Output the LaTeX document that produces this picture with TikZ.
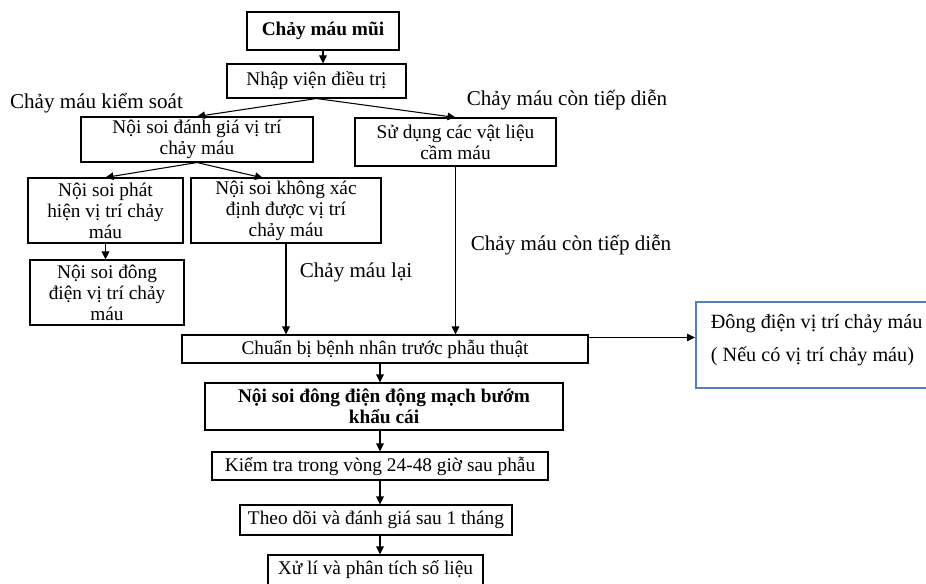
\documentclass[tikz,border=0pt]{standalone}
\usepackage{fontspec}
\setmainfont{Liberation Serif}
\usetikzlibrary{arrows.meta}
\definecolor{noteblue}{RGB}{79,129,189}
\tikzset{
    box/.style 2 args={draw, line width=0.6pt, align=center, inner sep=1pt,
        minimum width=#1, minimum height=#2, font=\fontsize{11}{12}\selectfont},
    lbl/.style={font=\fontsize{12}{14}\selectfont},
    arr/.style={-{Triangle[length=1.6mm,width=1.5mm]}, line width=0.6pt},
}
\begin{document}
\begin{tikzpicture}[x=0.2mm,y=-0.2mm]
    \useasboundingbox (0,0) rectangle (926,584);
    \coordinate (col) at (380,0);
    \coordinate (k6) at (263,178);

    \node[box={30.4mm}{7.6mm}, font=\fontsize{11}{12}\selectfont\bfseries] (chay) at (323,31) {Chảy máu mũi};
    \node[box={35.8mm}{6.8mm}] (nhap) at (316.5,81) {Nhập viện điều trị};
    \node[box={46.4mm}{9mm}] (danhgia) at (197,139.5) {Nội soi đánh giá vị trí\\chảy máu};
    \node[box={40.2mm}{9.6mm}] (vatlieu) at (455.5,142) {Sử dụng các vật liệu\\cầm máu};
    \node[box={31mm}{13mm}] (phathien) at (105.5,210.5) {Nội soi phát\\hiện vị trí chảy\\máu};
    \node[box={38mm}{13mm}] (khong) at (286,210.5) {Nội soi không xác\\định được vị trí\\chảy máu};
    \node[box={30.8mm}{13mm}] (dongvt) at (107,292.5) {Nội soi đông\\điện vị trí chảy\\máu};
    \node[box={81.2mm}{5.6mm}] (chuanbi) at (385,349) {Chuẩn bị bệnh nhân trước phẫu thuật};
    \node[box={71.6mm}{9.4mm}, font=\fontsize{11}{12}\selectfont\bfseries] (dongmach) at (384,406.5) {Nội soi đông điện động mạch bướm\\khẩu cái};
    \node[box={67.2mm}{5.6mm}] (kiemtra) at (380,466) {Kiểm tra trong vòng 24-48 giờ sau phẫu};
    \node[box={54.4mm}{6mm}] (theodoi) at (376,520) {Theo dõi và đánh giá sau 1 tháng};
    \node[box={43mm}{6mm}] (xuli) at (375.5,570) {Xử lí và phân tích số liệu};
    \node[draw=noteblue, line width=1pt, minimum height=17.2mm, inner xsep=3mm,
        anchor=west, align=left, font=\fontsize{11.5}{19}\selectfont] (ghichu) at (695,345)
        {Đông điện vị trí chảy máu\\( Nếu có vị trí chảy máu)\\[-11pt]\mbox{}};

    \node[lbl] (kiemsoat) at (96.5,103) {Chảy máu kiểm soát};
    \node[lbl] (tiepdien1) at (567,100) {Chảy máu còn tiếp diễn};
    \node[lbl] (chaylai) at (356,272) {Chảy máu lại};
    \node[lbl] (tiepdien2) at (571,245) {Chảy máu còn tiếp diễn};

    \draw[arr] (chay.south) -- (chay.south |- nhap.north);
    \draw[arr] (nhap.south) -- (danhgia.north);
    \draw[arr] (nhap.south) -- (vatlieu.north);
    \draw[arr] (danhgia.south) -- (phathien.north);
    \draw[arr] (danhgia.south) -- (k6);
    \draw[arr] (phathien.south) -- (phathien.south |- dongvt.north);
    \draw[arr] (khong.south) -- (khong.south |- chuanbi.north);
    \draw[arr] (vatlieu.south) -- (vatlieu.south |- chuanbi.north);
    \draw[arr] ([yshift=-0.6mm]chuanbi.north east) coordinate (e) -- (e -| ghichu.west);
    \draw[arr] (col |- chuanbi.south) -- (col |- dongmach.north);
    \draw[arr] (col |- dongmach.south) -- (col |- kiemtra.north);
    \draw[arr] (col |- kiemtra.south) -- (col |- theodoi.north);
    \draw[arr] (col |- theodoi.south) -- (col |- xuli.north);
\end{tikzpicture}
\end{document}
